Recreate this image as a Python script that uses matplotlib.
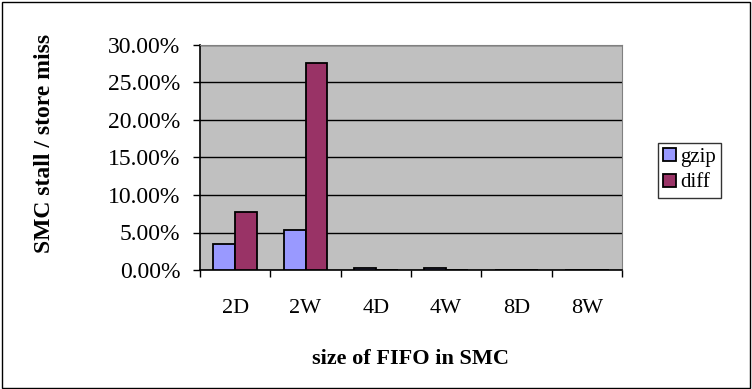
import matplotlib
matplotlib.use('Agg')
import matplotlib.pyplot as plt
from matplotlib.ticker import FixedLocator, FuncFormatter
from matplotlib.patches import Rectangle

plt.rcParams['font.family'] = 'Liberation Serif'

categories = ['2D', '2W', '4D', '4W', '8D', '8W']
gzip = [3.5, 5.3, 0.3, 0.3, 0.0, 0.0]
diff = [7.7, 27.6, 0.0, 0.0, 0.0, 0.0]

fig = plt.figure(figsize=(7.52, 3.89), dpi=100)
ax = fig.add_axes([200 / 752, 1 - 270 / 389, 422 / 752, 225 / 389])
ax.set_facecolor('#C0C0C0')

x = list(range(len(categories)))
w = 0.31
ax.bar([i - w / 2 for i in x], gzip, w, color='#9999FF', edgecolor='black',
       linewidth=1.3, label='gzip', zorder=3)
ax.bar([i + w / 2 for i in x], diff, w, color='#993366', edgecolor='black',
       linewidth=1.3, label='diff', zorder=3)

ax.set_xlim(-0.5, 5.5)
ax.set_ylim(0, 30)
ax.yaxis.set_major_locator(FixedLocator([0, 5, 10, 15, 20, 25, 30]))
ax.yaxis.set_major_formatter(FuncFormatter(lambda v, p: '%.2f%%' % v))
ax.grid(axis='y', color='black', linewidth=1.0, zorder=1)

# ticks sit between the categories, labels in the middle
ax.xaxis.set_major_locator(FixedLocator([i - 0.5 for i in range(7)]))
ax.xaxis.set_major_formatter(FuncFormatter(lambda v, p: ''))
ax.xaxis.set_minor_locator(FixedLocator(x))
ax.xaxis.set_minor_formatter(FuncFormatter(lambda v, p: categories[int(round(v))]))
ax.tick_params(axis='x', which='major', length=5, width=1, direction='out')
ax.tick_params(axis='x', which='minor', length=0, pad=21, labelsize=16)
ax.tick_params(axis='y', length=5, width=1, direction='out', pad=9, labelsize=17)

for s in ['top', 'right']:
    ax.spines[s].set_color('#808080')
for s in ['left', 'bottom']:
    ax.spines[s].set_color('black')
    ax.spines[s].set_linewidth(1.2)

ax.set_ylabel('SMC stall / store miss', fontsize=17, fontweight='bold')
ax.yaxis.set_label_coords(55 / 752, 1 - 143 / 389, transform=fig.transFigure)
ax.set_xlabel('size of FIFO in SMC', fontsize=16, fontweight='bold', labelpad=22)

leg = ax.legend(loc='upper left', bbox_to_anchor=(658 / 752, 1 - 143 / 389),
                bbox_transform=fig.transFigure, frameon=True, fancybox=False,
                fontsize=15, handlelength=0.6, handleheight=0.6, handletextpad=0.2,
                borderpad=0.25, labelspacing=0.3, borderaxespad=0)
leg.get_frame().set_edgecolor('black')
leg.get_frame().set_linewidth(1.0)

fig.patches.append(Rectangle((0.002, 0.003), 0.995, 0.993, transform=fig.transFigure,
                             fill=False, edgecolor='black', linewidth=1.0))

fig.savefig('out.png', dpi=100)
